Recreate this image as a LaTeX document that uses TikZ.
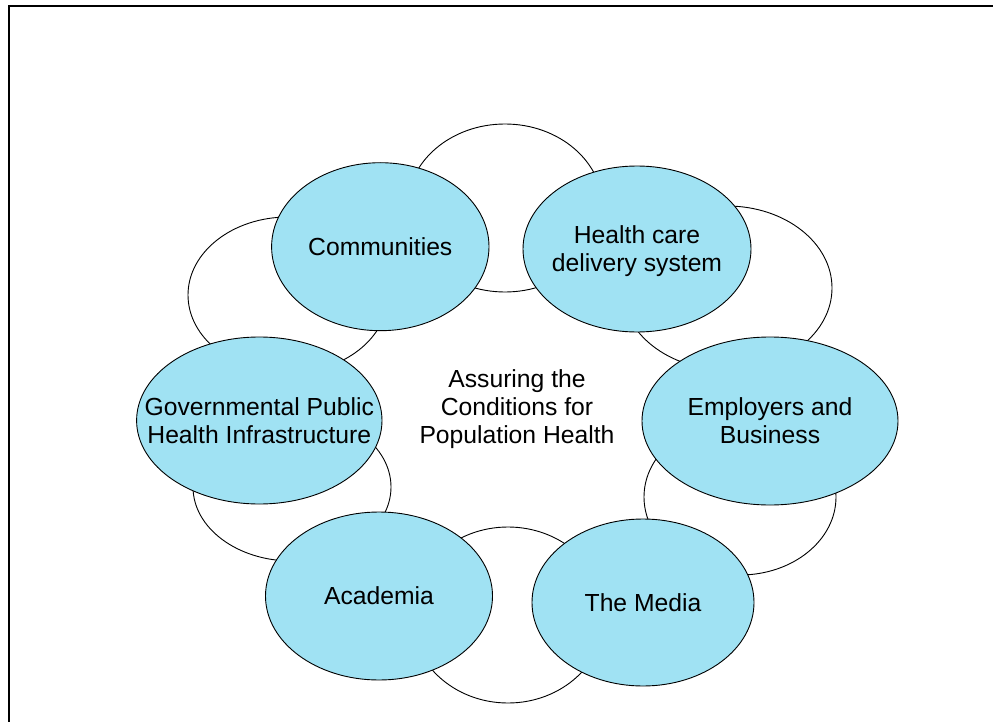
\documentclass[tikz,border=0pt]{standalone}
\usepackage{fontspec}
\setmainfont{Liberation Sans}
\usetikzlibrary{shapes.geometric}
\definecolor{partnerblue}{RGB}{160,226,243}
\tikzset{
	ring/.style={draw=black, fill=white, line width=0.9pt},
	partner/.style 2 args={ellipse, draw=black, fill=partnerblue, line width=0.9pt, inner sep=0pt, minimum width=#1, minimum height=#2},
	tag/.style={font=\fontsize{24.7}{28}\selectfont, align=center, inner sep=0pt}
}

\begin{document}
\begin{tikzpicture}[x=1pt, y=-1pt]
		%%%%% START %%%%%
		
		\useasboundingbox (0, 0) rectangle (993, 722);
		\draw[line width=2pt] (8.5, 722) -- (8.5, 6) -- (993, 6);
		
		% white rings behind
		\draw[ring] (505, 208) ellipse [x radius=98pt, y radius=84pt];
		\draw[ring] (727, 288) ellipse [x radius=105pt, y radius=82pt];
		\draw[ring] (740, 497) ellipse [x radius=96pt, y radius=78pt];
		\draw[ring] (508, 615) ellipse [x radius=97pt, y radius=88pt];
		\draw[ring] (292, 487) ellipse [x radius=99pt, y radius=74pt];
		\draw[ring] (288, 295) ellipse [x radius=100pt, y radius=78pt];
		
		% partners
		\node[partner={217.4pt}{168pt}, label={[tag]center:Communities}] (communities) at (380.3, 246.7) {};
		\node[partner={228pt}{166pt}, label={[tag, yshift=-2.5pt]center:Health care\\delivery system}] (healthcare) at (637, 249) {};
		\node[partner={245.4pt}{167pt}, label={[tag]center:Governmental Public\\Health Infrastructure}] (governmental) at (259.3, 420.5) {};
		\node[partner={256pt}{168pt}, label={[tag]center:Employers and\\Business}] (employers) at (770, 421) {};
		\node[partner={227pt}{168pt}, label={[tag]center:Academia}] (academia) at (379, 596) {};
		\node[partner={222pt}{167pt}, label={[tag]center:The Media}] (media) at (643, 602.5) {};
		
		\node[tag] (assuring) at (517, 409) {Assuring the\\Conditions for\\Population Health};
		
		%%%%% END %%%%%
\end{tikzpicture}
\end{document}
